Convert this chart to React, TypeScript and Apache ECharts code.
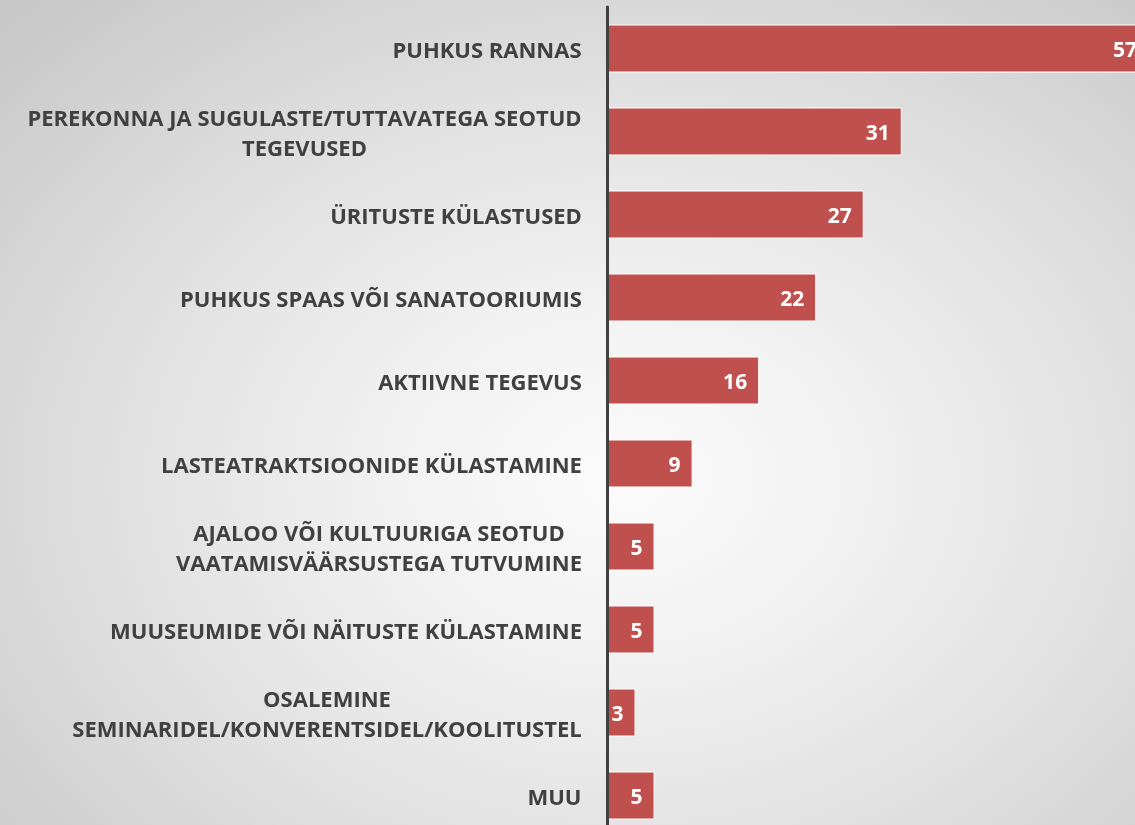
import React, { useEffect, useRef } from "react";
import * as echarts from "echarts";

const categories = [
  "PUHKUS RANNAS",
  "PEREKONNA JA SUGULASTE/TUTTAVATEGA SEOTUD\nTEGEVUSED",
  "ÜRITUSTE KÜLASTUSED",
  "PUHKUS SPAAS VÕI SANATOORIUMIS",
  "AKTIIVNE TEGEVUS",
  "LASTEATRAKTSIOONIDE KÜLASTAMINE",
  "AJALOO VÕI KULTUURIGA SEOTUD\nVAATAMISVÄÄRSUSTEGA TUTVUMINE",
  "MUUSEUMIDE VÕI NÄITUSTE KÜLASTAMINE",
  "OSALEMINE\nSEMINARIDEL/KONVERENTSIDEL/KOOLITUSTEL",
  "MUU",
];
const values = [57, 31, 27, 22, 16, 9, 5, 5, 3, 5];

const FONT = "Open Sans";
const FONT_SIZE = 22;

export default function App() {
  const ref = useRef<HTMLDivElement>(null);
  useEffect(() => {
    if (!ref.current) return;
    const canvas = document.createElement("canvas");
    const ctx = canvas.getContext("2d")!;
    ctx.font = `bold ${FONT_SIZE}px "${FONT}"`;
    const rich: Record<string, any> = {};
    categories.forEach((c, i) => {
      const w = Math.max(...c.split("\n").map((l) => ctx.measureText(l).width));
      rich["c" + i] = {
        width: Math.ceil(w) + 2,
        align: "center",
        color: "#404040",
        fontFamily: FONT,
        fontWeight: "bold",
        fontSize: FONT_SIZE,
        lineHeight: 30,
      };
    });
    const chart = echarts.init(ref.current, undefined, { renderer: "svg" });
    chart.setOption({
      animation: false,
      backgroundColor: "transparent",
      grid: { left: 607, right: 11, top: 7, bottom: 3, containLabel: false },
      xAxis: {
        type: "value",
        min: 0,
        max: 57,
        show: false,
      },
      yAxis: {
        type: "category",
        data: categories,
        inverse: true,
        z: 5,
        axisLine: { show: true, lineStyle: { color: "#404040", width: 3 } },
        axisTick: { show: false },
        splitLine: { show: false },
        axisLabel: {
          margin: 24,
          color: "#404040",
          fontFamily: FONT,
          fontWeight: "bold",
          fontSize: FONT_SIZE,
          lineHeight: 30,
          align: "right",
          formatter: (value: string, index: number) =>
            value
              .split("\n")
              .map((l) => `{c${index}|${l}}`)
              .join("\n"),
          rich,
        },
      },
      series: [
        {
          type: "bar",
          data: values,
          barWidth: 48,
          itemStyle: { color: "#C0504D", borderColor: "#ffffff", borderWidth: 1 },
          label: {
            show: true,
            position: "insideRight",
            distance: 12,
            color: "#ffffff",
            fontFamily: FONT,
            fontWeight: "bold",
            fontSize: 21,
          },
        },
      ],
    });
    return () => chart.dispose();
  }, []);
  return (
    <div
      style={{
        position: "fixed",
        left: 0,
        top: 0,
        width: 1135,
        height: 825,
        overflow: "hidden",
        background:
          "radial-gradient(ellipse at 55% 58%, #fbfbfb 0%, #f2f2f2 25%, #e2e2e2 55%, #c6c6c6 100%)",
      }}
    >
      <div ref={ref} style={{ width: 1160, height: 840 }} />
    </div>
  );
}
